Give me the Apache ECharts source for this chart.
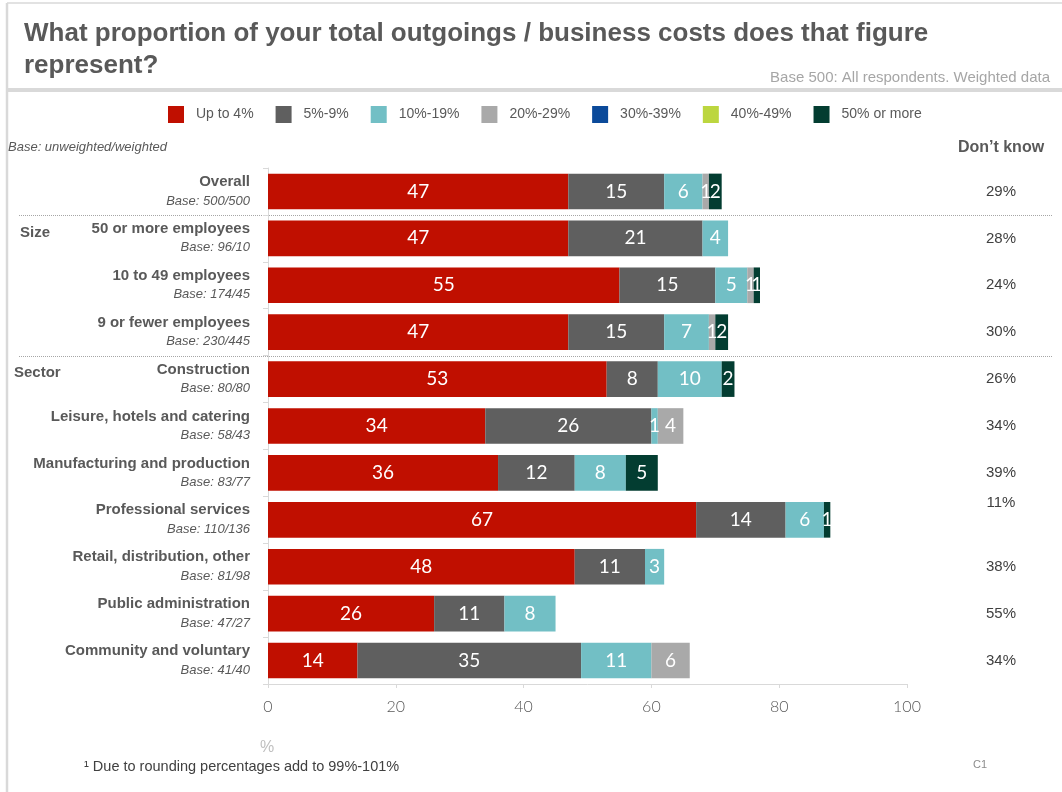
<!DOCTYPE html>
<html>
<head>
<meta charset="utf-8">
<title>Proportion of total outgoings / business costs</title>
<script src="https://cdn.jsdelivr.net/npm/echarts@6/dist/echarts.min.js"></script>
<style>
  html, body { margin: 0; padding: 0; background: #ffffff; }
  #chart { width: 1062px; height: 792px; }
</style>
</head>
<body>
<div id="chart"></div>
<script>
// Row labels (top to bottom) with unweighted/weighted bases
const categories = [
  'Overall',
  '50 or more employees',
  '10 to 49 employees',
  '9 or fewer employees',
  'Construction',
  'Leisure, hotels and catering',
  'Manufacturing and production',
  'Professional services',
  'Retail, distribution, other',
  'Public administration',
  'Community and voluntary'
];
const bases = ['500/500', '96/10', '174/45', '230/445', '80/80', '58/43', '83/77', '110/136', '81/98', '47/27', '41/40'];
const groupLabels = ['', 'Size', '', '', 'Sector', '', '', '', '', '', ''];

// Cost bands (legend order)
const bandNames = ['Up to 4%', '5%-9%', '10%-19%', '20%-29%', '30%-39%', '40%-49%', '50% or more'];

// Percentage of respondents in each band
const upTo4     = [47, 47, 55, 47, 53, 34, 36, 67, 48, 26, 14];
const pct5to9   = [15, 21, 15, 15,  8, 26, 12, 14, 11, 11, 35];
const pct10to19 = [ 6,  4,  5,  7, 10,  1,  8,  6,  3,  8, 11];
const pct20to29 = [ 1,  0,  1,  1,  0,  4,  0,  0,  0,  0,  6];
const pct30to39 = [ 0,  0,  0,  0,  0,  0,  0,  0,  0,  0,  0];
const pct40to49 = [ 0,  0,  0,  0,  0,  0,  0,  0,  0,  0,  0];
const pct50plus = [ 2,  0,  1,  2,  2,  0,  5,  1,  0,  0,  0];
const dontKnow  = [29, 28, 24, 30, 26, 34, 39, 11, 38, 55, 34];

// Value axis ticks
const xTicks = [0, 20, 40, 60, 80, 100];

const bandValues = [upTo4, pct5to9, pct10to19, pct20to29, pct30to39, pct40to49, pct50plus];
const bandColors = ['#c00f00', '#5f5f5f', '#72bfc5', '#a9a9a9', '#0b4a9a', '#bcd63f', '#033d31'];

const chart = echarts.init(document.getElementById('chart'), null, { renderer: 'canvas' });

const ARIAL = '"Liberation Sans", Arial, sans-serif';
const LIGHT = 'Lato, "Open Sans", sans-serif';

const series = bandNames.map((name, k) => ({
  name: name,
  type: 'bar',
  stack: 'total',
  barCategoryGap: '24%',
  yAxisIndex: 0,
  itemStyle: { color: bandColors[k] },
  label: {
    show: true,
    position: 'inside',
    color: '#ffffff',
    fontFamily: LIGHT,
    fontSize: 19,
    formatter: p => (p.value > 0 ? String(p.value) : '')
  },
  emphasis: { disabled: true },
  data: bandValues[k]
}));

chart.setOption({
  backgroundColor: '#ffffff',
  animation: false,
  title: [
    {
      text: 'What proportion of your total outgoings / business costs does that figure\nrepresent?',
      left: 19, top: 13,
      textStyle: { fontFamily: ARIAL, fontWeight: 'bold', fontSize: 26, color: '#595959', lineHeight: 32 }
    },
    {
      text: 'Base 500: All respondents. Weighted data',
      right: 7, top: 65,
      textStyle: { fontFamily: ARIAL, fontWeight: 'normal', fontSize: 15, color: '#a6a6a6' }
    }
  ],
  legend: {
    data: bandNames,
    left: 163, top: 101,
    itemWidth: 16, itemHeight: 17,
    itemGap: 22,
    icon: 'rect',
    selectedMode: false,
    textStyle: { fontFamily: ARIAL, fontSize: 14, color: '#595959', padding: [0, 0, 0, 7] }
  },
  grid: { left: 268, right: 155, top: 168, bottom: 108, containLabel: false },
  xAxis: {
    type: 'value',
    min: xTicks[0], max: xTicks[xTicks.length - 1], interval: xTicks[1] - xTicks[0],
    axisLine: { show: true, lineStyle: { color: '#d9d9d9', width: 1 } },
    axisTick: { show: true, length: 4, lineStyle: { color: '#d9d9d9' } },
    splitLine: { show: false },
    axisLabel: { margin: 15, fontFamily: LIGHT, fontWeight: 300, fontSize: 16, color: '#595959' }
  },
  yAxis: [
    {
      type: 'category',
      data: categories,
      inverse: true,
      axisLine: { show: true, lineStyle: { color: '#d9d9d9', width: 1 } },
      axisTick: { show: true, length: 5, lineStyle: { color: '#d9d9d9' } },
      axisLabel: {
        margin: 18,
        formatter: (v, i) => '{n|' + v + '}\n{b|Base: ' + bases[i] + '}',
        rich: {
          n: { fontFamily: ARIAL, fontWeight: 'bold', fontSize: 15, color: '#595959', lineHeight: 19, align: 'right' },
          b: { fontFamily: ARIAL, fontStyle: 'italic', fontSize: 13, color: '#595959', lineHeight: 19, align: 'right' }
        }
      }
    },
    {
      type: 'category',
      data: categories,
      inverse: true,
      position: 'right',
      axisLine: { show: false },
      axisTick: { show: false },
      axisLabel: {
        margin: 94,
        align: 'center',
        formatter: (v, i) => (v === 'Professional services' ? '{lift|' : '{d|') + dontKnow[i] + '%}',
        rich: {
          d: { fontFamily: ARIAL, fontSize: 15, color: '#404040' },
          lift: { fontFamily: ARIAL, fontSize: 15, color: '#404040', padding: [0, 0, 34, 0] }
        }
      }
    }
  ],
  series: series
});

// Header, group labels, separators and frame placed from the axis scale
const rowY = i => chart.convertToPixel({ yAxisIndex: 0 }, categories[i]);
const graphics = [];

// Frame
graphics.push({ type: 'line', shape: { x1: 7, y1: 3, x2: 1062, y2: 3 }, style: { stroke: '#d9d9d9', lineWidth: 1.5 }, silent: true });
graphics.push({ type: 'line', shape: { x1: 7, y1: 3, x2: 7, y2: 792 }, style: { stroke: '#d9d9d9', lineWidth: 2.5 }, silent: true });
graphics.push({ type: 'rect', shape: { x: 7, y: 88, width: 1055, height: 4 }, style: { fill: '#d9d9d9' }, silent: true });

// Column headers
graphics.push({ type: 'text', left: 8, top: 141, style: { text: 'Base: unweighted/weighted', font: 'italic 13px ' + ARIAL, fill: '#595959' } });
graphics.push({ type: 'text', x: 1001, y: 148, style: { text: 'Don\u2019t know', font: 'bold 16px ' + ARIAL, fill: '#595959', align: 'center', verticalAlign: 'middle' } });

// Group labels and dotted separators above each group
groupLabels.forEach((g, i) => {
  if (!g) return;
  const y = rowY(i);
  graphics.push({ type: 'text', x: g === 'Size' ? 20 : 14, y: y - 6, style: { text: g, font: 'bold 15px ' + ARIAL, fill: '#595959', verticalAlign: 'middle' } });
  const sep = Math.round((rowY(i - 1) + y) / 2) + 0.5;
  graphics.push({ type: 'line', shape: { x1: 19, y1: sep, x2: 1052, y2: sep }, style: { stroke: '#a6a6a6', lineWidth: 1, lineDash: [1, 1] }, silent: true });
});

// Axis unit, footnote and slide code
graphics.push({ type: 'text', x: 267, y: 748, style: { text: '%', font: '16px ' + ARIAL, fill: '#bfbfbf', align: 'center', verticalAlign: 'middle' } });
graphics.push({ type: 'text', x: 84, y: 767, style: { text: '\u00b9 Due to rounding percentages add to 99%-101%', font: '14.5px ' + ARIAL, fill: '#404040', verticalAlign: 'middle' } });
graphics.push({ type: 'text', x: 980, y: 765, style: { text: 'C1', font: '11px ' + ARIAL, fill: '#8c8c8c', align: 'center', verticalAlign: 'middle' } });

chart.setOption({ graphic: graphics });
</script>
</body>
</html>
